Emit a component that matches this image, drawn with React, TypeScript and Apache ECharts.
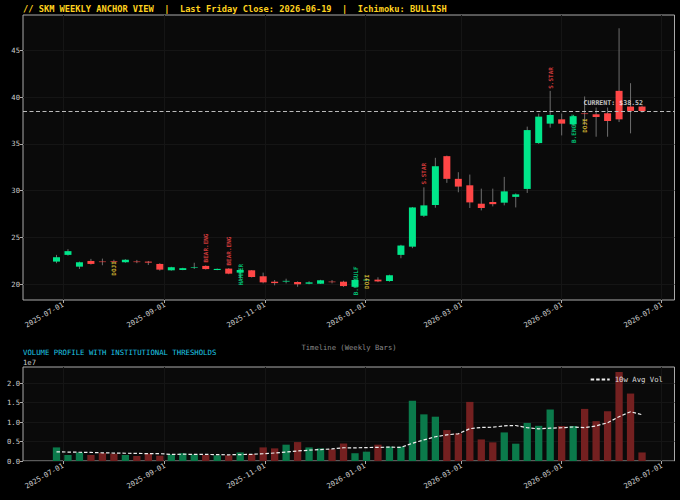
import React, { useEffect, useRef } from "react";
import * as echarts from "echarts";

// ---- data ----
const weekDates = [
  "2025-06-27", "2025-07-04", "2025-07-11", "2025-07-18", "2025-07-25",
  "2025-08-01", "2025-08-08", "2025-08-15", "2025-08-22", "2025-08-29",
  "2025-09-05", "2025-09-12", "2025-09-19", "2025-09-26", "2025-10-03",
  "2025-10-10", "2025-10-17", "2025-10-24", "2025-10-31", "2025-11-07",
  "2025-11-14", "2025-11-21", "2025-11-28", "2025-12-05", "2025-12-12",
  "2025-12-19", "2025-12-26", "2026-01-02", "2026-01-09", "2026-01-16",
  "2026-01-23", "2026-01-30", "2026-02-06", "2026-02-13", "2026-02-20",
  "2026-02-27", "2026-03-06", "2026-03-13", "2026-03-20", "2026-03-27",
  "2026-04-03", "2026-04-10", "2026-04-17", "2026-04-24", "2026-05-01",
  "2026-05-08", "2026-05-15", "2026-05-22", "2026-05-29", "2026-06-05",
  "2026-06-12", "2026-06-19",
];

const opens = [
  22.40, 23.12, 21.86, 22.47, 22.41, 22.46, 22.33, 22.41, 22.40, 22.15,
  21.47, 21.50, 21.80, 21.94, 21.50, 21.65, 21.22, 21.47, 20.83, 20.25,
  20.26, 20.22, 20.03, 20.03, 20.26, 20.25, 19.70, 20.44, 20.47, 20.32,
  23.12, 24.00, 27.31, 28.46, 33.69, 31.26, 30.57, 28.60, 28.78, 28.71,
  29.33, 30.18, 35.09, 37.17, 37.63, 37.10, 38.26, 38.17, 38.28, 40.68,
  39.00, 39.00,
];
const closes = [
  22.87, 23.52, 22.33, 22.15, 22.39, 22.44, 22.61, 22.39, 22.29, 21.54,
  21.80, 21.70, 21.82, 21.60, 21.62, 21.11, 21.50, 20.75, 20.18, 20.10,
  20.34, 19.97, 20.18, 20.40, 20.24, 19.78, 20.43, 20.46, 20.28, 20.94,
  24.12, 28.20, 28.42, 32.61, 31.26, 30.43, 28.74, 28.14, 28.55, 29.92,
  29.60, 36.48, 37.92, 38.10, 37.17, 37.96, 38.24, 37.88, 37.45, 37.63,
  38.53, 38.52,
];
const lows = [
  22.23, 23.04, 21.61, 22.08, 22.01, 22.30, 22.28, 22.23, 22.04, 21.43,
  21.43, 21.48, 21.61, 21.55, 21.48, 21.05, 20.50, 20.70, 20.07, 19.86,
  20.07, 19.71, 19.97, 20.00, 20.07, 19.70, 19.60, 20.30, 20.20, 20.25,
  22.76, 23.84, 27.17, 28.17, 30.83, 29.82, 28.14, 27.88, 28.31, 28.42,
  28.20, 29.75, 35.00, 36.74, 35.91, 36.90, 37.00, 35.77, 35.77, 37.34,
  36.13, 38.35,
];
const highs = [
  23.12, 23.73, 22.40, 22.69, 22.72, 22.60, 22.66, 22.58, 22.47, 22.23,
  21.85, 21.74, 22.28, 22.00, 21.66, 21.70, 21.60, 21.50, 21.22, 20.43,
  20.57, 20.29, 20.30, 20.45, 20.43, 20.35, 20.50, 20.60, 20.72, 21.00,
  24.20, 28.25, 30.35, 33.51, 33.75, 31.97, 31.72, 30.21, 30.21, 31.47,
  29.70, 36.85, 38.25, 40.68, 38.25, 38.10, 40.08, 38.89, 38.89, 47.38,
  41.50, 39.10,
];

// weekly volume, in millions of shares
const volumesM = [
  3.5, 1.54, 2.2, 1.54, 2.05, 1.9, 1.54, 1.28, 1.9, 1.37,
  1.7, 2.0, 1.7, 1.54, 1.45, 1.45, 2.2, 1.8, 3.5, 3.25,
  4.2, 4.87, 3.5, 3.25, 3.0, 4.5, 2.0, 2.4, 4.2, 3.7,
  3.7, 15.5, 12.0, 11.4, 7.95, 7.1, 15.2, 5.55, 4.8, 7.35,
  4.45, 9.8, 9.05, 13.25, 9.0, 9.0, 13.4, 10.25, 12.8, 22.9,
  17.35, 2.2,
];
// 10-week average before a full window is in view
const earlyAvgVolM = [2.35, 2.3, 2.25, 2.2, 2.1, 2.05, 2.0, 1.95, 1.9];
const avgWindow = 10;

const patternIdx = [5, 13, 15, 16, 26, 27, 32, 43, 45, 46];
const patternText = ["DOJI", "BEAR.ENG", "BEAR.ENG", "HAMMER", "B.ENGULF", "DOJI", "S.STAR", "S.STAR", "B.ENGULF", "DOJI"];
const patternY = [21.67, 23.86, 23.53, 21.0, 20.34, 20.25, 31.81, 42.06, 36.65, 36.96];

const xTickDates = ["2025-07-01", "2025-09-01", "2025-11-01", "2026-01-01", "2026-03-01", "2026-05-01", "2026-07-01"];
const priceTicks = [20, 25, 30, 35, 40, 45];
const volumeTicks = [0, 5e6, 1e7, 1.5e7, 2e7];
const currentPrice = 38.52;

const titleText = "// SKM WEEKLY ANCHOR VIEW  |  Last Friday Close: 2026-06-19  |  Ichimoku: BULLISH";
const volTitle = "VOLUME PROFILE WITH INSTITUTIONAL THRESHOLDS";
const xName = "Timeline (Weekly Bars)";

// ---- styles ----
const MONO = '"DejaVu Sans Mono", monospace';
const GREEN = "#00e68a";
const RED = "#ff4646";
const VGREEN = "#0b7a4b";
const VRED = "#742020";
const WICK = "#6e6e6e";
const YELLOW = "#f2d43a";
const TICK_TEXT = "#cccccc";

function toTs(s: string): number {
  const [y, m, d] = s.split("-").map(Number);
  return new Date(y, m - 1, d).getTime();
}
function fmt(v: number): string {
  const d = new Date(v);
  const p = (n: number) => (n < 10 ? "0" + n : "" + n);
  return d.getFullYear() + "-" + p(d.getMonth() + 1) + "-" + p(d.getDate());
}

export default function App() {
  const ref = useRef<HTMLDivElement>(null);
  useEffect(() => {
    document.body.style.margin = "0";
    document.body.style.background = "#000";
    if (!ref.current) return;
    const chart = echarts.init(ref.current, null, { renderer: "svg" });

    const ts = weekDates.map(toTs);
    const xTicks = xTickDates.map(toTs);
    const candles = ts.map((t, i) => [t, opens[i], closes[i], lows[i], highs[i]]);
    const vols = volumesM.map((v) => v * 1e6);
    const avg = vols.map((_, i) => {
      if (i < avgWindow - 1) return earlyAvgVolM[i] * 1e6;
      let s = 0;
      for (let k = i - avgWindow + 1; k <= i; k++) s += vols[k];
      return s / avgWindow;
    });

    const patternColor = (t: string) =>
      t === "DOJI" ? YELLOW : t === "HAMMER" || t === "B.ENGULF" ? GREEN : RED;

    const xMin = new Date(2025, 5, 6, 14).getTime();
    const xMax = new Date(2026, 6, 8, 19).getTime();

    const xAxisCommon = (gi: number) => ({
      type: "value",
      gridIndex: gi,
      min: xMin,
      max: xMax,
      axisLine: { show: false },
      axisTick: { show: true, customValues: xTicks, length: 3, lineStyle: { color: "#aaaaaa" } },
      axisLabel: {
        customValues: xTicks,
        formatter: (v: number) => fmt(v),
        rotate: 30,
        margin: 4,
        color: TICK_TEXT,
        fontFamily: MONO,
        fontSize: 7.2,
      },
      splitLine: { show: true, lineStyle: { color: "#151515", width: 1 } },
    });

    const option: any = {
      animation: false,
      backgroundColor: "#000000",
      textStyle: { fontFamily: MONO, color: TICK_TEXT },
      grid: [
        { left: 23, right: 5.5, top: 15, height: 285, show: true, backgroundColor: "#0a0a0a", borderColor: "#aaaaaa", borderWidth: 1 },
        { left: 23, right: 5.5, top: 367, height: 94, show: true, backgroundColor: "#0a0a0a", borderColor: "#aaaaaa", borderWidth: 1 },
      ],
      xAxis: [xAxisCommon(0), xAxisCommon(1)],
      yAxis: [
        {
          type: "value",
          gridIndex: 0,
          min: 18.29,
          max: 48.8,
          axisLine: { show: false },
          axisTick: { show: true, customValues: priceTicks, length: 3, lineStyle: { color: "#aaaaaa" } },
          axisLabel: { customValues: priceTicks, color: TICK_TEXT, fontFamily: MONO, fontSize: 7.2, margin: 3 },
          splitLine: { show: true, lineStyle: { color: "#151515", width: 1 } },
        },
        {
          type: "value",
          gridIndex: 1,
          min: 0,
          max: 2.418e7,
          axisLine: { show: false },
          axisTick: { show: true, customValues: volumeTicks, length: 3, lineStyle: { color: "#aaaaaa" } },
          axisLabel: {
            customValues: volumeTicks,
            formatter: (v: number) => (v / 1e7).toFixed(1),
            color: TICK_TEXT,
            fontFamily: MONO,
            fontSize: 7.2,
            margin: 3,
          },
          splitLine: { show: true, lineStyle: { color: "#151515", width: 1 } },
        },
      ],
      legend: {
        data: ["10w Avg Vol"],
        right: 12,
        top: 371,
        itemWidth: 19,
        itemHeight: 6,
        itemGap: 4,
        itemStyle: { opacity: 0 },
        textStyle: { color: "#dddddd", fontFamily: MONO, fontSize: 7.3 },
      },
      series: [
        {
          type: "custom",
          name: "Price",
          xAxisIndex: 0,
          yAxisIndex: 0,
          data: candles,
          encode: { x: 0, y: [1, 2, 3, 4] },
          renderItem: (params: any, api: any) => {
            const t = api.value(0);
            const o = api.value(1);
            const c = api.value(2);
            const l = api.value(3);
            const h = api.value(4);
            const pt = api.coord([t, h]);
            const pb = api.coord([t, l]);
            const po = api.coord([t, o]);
            const pc = api.coord([t, c]);
            const w = 7;
            const y0 = Math.min(po[1], pc[1]);
            const bh = Math.max(Math.abs(po[1] - pc[1]), 0.6);
            return {
              type: "group",
              children: [
                { type: "line", shape: { x1: pt[0], y1: pt[1], x2: pb[0], y2: pb[1] }, style: { stroke: WICK, lineWidth: 1 } },
                { type: "rect", shape: { x: po[0] - w / 2, y: y0, width: w, height: bh }, style: { fill: c >= o ? GREEN : RED } },
              ],
            };
          },
          z: 2,
        },
        {
          type: "scatter",
          name: "Patterns",
          xAxisIndex: 0,
          yAxisIndex: 0,
          symbolSize: 1,
          itemStyle: { color: "rgba(0,0,0,0)" },
          z: 5,
          data: patternIdx.map((k, j) => ({
            value: [ts[k], patternY[j]],
            label: { formatter: patternText[j], color: patternColor(patternText[j]) },
          })),
          label: {
            show: true,
            position: "inside",
            rotate: 90,
            fontFamily: MONO,
            fontSize: 6,
            fontWeight: "bold",
          },
          markLine: {
            silent: true,
            symbol: "none",
            data: [{ yAxis: currentPrice }],
            lineStyle: { color: "#bbbbbb", type: [4, 2.5], width: 1 },
            label: { show: false },
          },
        },
        {
          type: "scatter",
          name: "Current",
          xAxisIndex: 0,
          yAxisIndex: 0,
          symbolSize: 1,
          itemStyle: { color: "rgba(0,0,0,0)" },
          z: 6,
          data: [[ts[46] - 86400000, currentPrice * 1.021]],
          label: {
            show: true,
            position: "right",
            distance: 0,
            formatter: "CURRENT: $" + currentPrice.toFixed(2),
            color: "#f0f0f0",
            fontFamily: MONO,
            fontSize: 6.6,
            fontWeight: "bold",
          },
        },
        {
          type: "bar",
          name: "Volume",
          xAxisIndex: 1,
          yAxisIndex: 1,
          barWidth: 7.3,
          data: vols.map((v, i) => ({
            value: [ts[i], v],
            itemStyle: { color: closes[i] >= opens[i] ? VGREEN : VRED },
          })),
        },
        {
          type: "line",
          name: "10w Avg Vol",
          xAxisIndex: 1,
          yAxisIndex: 1,
          symbol: "none",
          data: avg.map((v, i) => [ts[i], v]),
          lineStyle: { color: "#eeeeee", type: [3.5, 2], width: 1.2 },
          itemStyle: { color: "#eeeeee" },
          z: 4,
        },
      ],
      graphic: [
        {
          type: "text",
          left: 23,
          top: 4,
          style: { text: titleText, fill: "#ffd21f", font: "bold 8.7px " + MONO },
        },
        {
          type: "text",
          x: 349,
          y: 347,
          style: { text: xName, fill: "#8a8a8a", font: "7.2px " + MONO, align: "center", verticalAlign: "middle" },
        },
        {
          type: "text",
          x: 23,
          y: 352,
          style: { text: volTitle, fill: "#1ec8e6", font: "7.3px " + MONO, align: "left", verticalAlign: "middle" },
        },
        {
          type: "text",
          x: 23,
          y: 362,
          style: { text: "1e7", fill: "#cccccc", font: "7.2px " + MONO, align: "left", verticalAlign: "middle" },
        },
      ],
    };

    chart.setOption(option);
    return () => {
      chart.dispose();
    };
  }, []);

  return <div ref={ref} style={{ width: 680, height: 500 }} />;
}
